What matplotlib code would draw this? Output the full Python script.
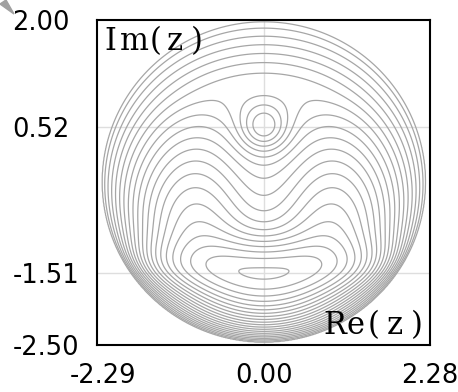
import numpy as np
import matplotlib
matplotlib.use("Agg")
import matplotlib.pyplot as plt
from matplotlib.patches import Polygon
from matplotlib.transforms import ScaledTranslation

plt.rcParams['axes.unicode_minus'] = False

# axis limits and ticks
x_lim = [-2.29, 2.28]
y_lim = [-2.50, 2.00]
x_ticks = [-2.29, 0.00, 2.28]
y_ticks = [2.00, 0.52, -1.51, -2.50]
x_grid = [0.00]
y_grid = [0.52, -1.51]

# disk centre / radius and the two features on the imaginary axis
disk_r = 2.22
disk_yc = -0.24
eye_y = 0.52
bean_y = -1.51

# contour levels, as fractions of the peak value
level_frac = [0.004, 0.05, 0.10, 0.15, 0.20, 0.25, 0.30, 0.35, 0.40, 0.45,
              0.50, 0.55, 0.60, 0.65, 0.70, 0.75, 0.80, 0.85, 0.90, 0.95, 0.993]

# axis names and where each glyph sits (pixel centres, baseline)
im_label = 'Im(z)'
im_x = [110, 134, 156, 175, 197]
im_base = 50
re_label = 'Re(z)'
re_x = [335, 355.5, 374, 395, 417]
re_base = 334


def field(x, y):
    u = y - disk_yc
    q = np.clip(1 - (x**2 + u**2) / disk_r**2, 0, None)
    base = q**0.85 * np.exp(-0.37 * (y - bean_y))
    # wide flat bean at the bottom
    flat = np.exp(0.12 * x**2 * np.exp(-(y - bean_y)**2 / (2 * 0.3**2)))
    # trough down the middle, fading out near the top
    h = 1 / (1 + np.exp(-(y + 1.15) / 0.18))
    h_top = 1 / (1 + np.exp(-(y - 1.0) / 0.12))
    col = 1 - 0.45 * h * (1 - h_top) * np.exp(-x**2 / (2 * 0.6**2))
    eye = 1 - 0.55 * np.exp(-(x**2 + (y - eye_y)**2) / (2 * 0.22**2))
    return base * flat * col * eye


xs = np.linspace(x_lim[0], x_lim[1], 600)
ys = np.linspace(y_lim[0], y_lim[1], 600)
X, Y = np.meshgrid(xs, ys)
Z = field(X, Y)
levels = np.array(level_frac) * Z.max()

fig = plt.figure(figsize=(4.58, 3.92), dpi=100)
ax = fig.add_axes([97 / 458, 1 - 345 / 392, 333 / 458, 325 / 392])

for gx in x_grid:
    ax.axvline(gx, color='#dedede', lw=1.0, zorder=0)
for gy in y_grid:
    ax.axhline(gy, color='#dedede', lw=1.0, zorder=0)

ax.contour(X, Y, Z, levels=levels, colors='#a6a6a6', linewidths=0.9)

ax.set_xlim(x_lim)
ax.set_ylim(y_lim)
ax.set_xticks(x_ticks)
ax.set_xticklabels(['%.2f' % v for v in x_ticks])
ax.set_yticks(y_ticks)
ax.set_yticklabels(['%.2f' % v for v in y_ticks])
ax.tick_params(length=0, labelsize=18.5)
ax.tick_params(axis='x', pad=13)
ax.tick_params(axis='y', pad=61)
for lbl in ax.get_yticklabels():
    lbl.set_horizontalalignment('left')
first = ax.get_xticklabels()[0]
first.set_transform(first.get_transform() + ScaledTranslation(0.06, 0, fig.dpi_scale_trans))
for sp in ax.spines.values():
    sp.set_linewidth(1.5)
    sp.set_color('black')

# axis names, typewriter style
for ch, px in zip(im_label, im_x):
    fig.text(px / 458, 1 - im_base / 392, ch, ha='center', va='baseline',
             family='DejaVu Serif', fontsize=22)
for ch, px in zip(re_label, re_x):
    fig.text(px / 458, 1 - re_base / 392, ch, ha='center', va='baseline',
             family='DejaVu Serif', fontsize=22)

# grey cursor tip in the top left corner
tip = Polygon([[0, 1 - 4 / 392], [6 / 458, 1], [14 / 458, 1 - 14 / 392]],
              closed=True, transform=fig.transFigure, color='#a0a0a0')
fig.add_artist(tip)

fig.savefig('out.png', dpi=100)
